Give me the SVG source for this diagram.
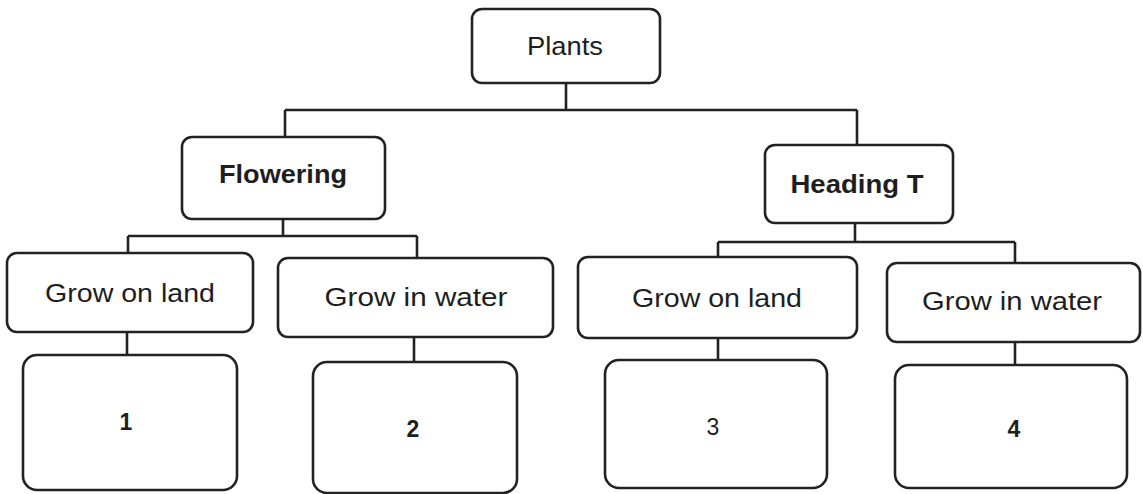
<svg xmlns="http://www.w3.org/2000/svg" width="1143" height="494" viewBox="0 0 1143 494">
<style>
.box{fill:#fff;stroke:#222;stroke-width:2.6}
.ln{fill:none;stroke:#222;stroke-width:2.6}
.t{font-family:"Liberation Sans",Arial,sans-serif;font-size:26px;fill:#1e1e1e;text-anchor:middle}
.b{font-weight:bold}
</style>
<rect width="1143" height="494" fill="#fff"/>
<g id="connectors">
<path class="ln" d="M566,83V110M285,110H857M285,110V137M857,110V145"/>
<path class="ln" d="M283,219V236M128,236H417M128,236V253M417,236V258"/>
<path class="ln" d="M855,223V242M718,242H1015M718,242V257M1015,242V263"/>
<path class="ln" d="M127,332V355M414,337V362M718,338V360M1015,342V365"/>
</g>
<g id="plants"><rect class="box" x="472" y="9" width="188" height="74" rx="10"/><text class="t" x="565" y="55" textLength="76" lengthAdjust="spacingAndGlyphs">Plants</text></g>
<g id="flowering"><rect class="box" x="182" y="137" width="203" height="82" rx="10"/><text class="t b" x="283" y="183" textLength="128" lengthAdjust="spacingAndGlyphs">Flowering</text></g>
<g id="headingT"><rect class="box" x="765" y="145" width="188" height="78" rx="10"/><text class="t b" x="857" y="193" textLength="133" lengthAdjust="spacingAndGlyphs">Heading T</text></g>
<g id="land1"><rect class="box" x="7" y="253" width="246" height="79" rx="10"/><text class="t" x="130" y="302" textLength="170" lengthAdjust="spacingAndGlyphs">Grow on land</text></g>
<g id="water1"><rect class="box" x="278" y="258" width="275" height="79" rx="10"/><text class="t" x="416" y="306" textLength="183" lengthAdjust="spacingAndGlyphs">Grow in water</text></g>
<g id="land2"><rect class="box" x="578" y="257" width="279" height="81" rx="10"/><text class="t" x="717" y="307" textLength="170" lengthAdjust="spacingAndGlyphs">Grow on land</text></g>
<g id="water2"><rect class="box" x="887" y="263" width="253" height="79" rx="10"/><text class="t" x="1012" y="310" textLength="180" lengthAdjust="spacingAndGlyphs">Grow in water</text></g>
<g id="n1"><rect class="box" x="23" y="355" width="214" height="135" rx="14"/><text class="t b" x="126" y="430" style="font-size:23px">1</text></g>
<g id="n2"><rect class="box" x="313" y="362" width="204" height="131" rx="14"/><text class="t b" x="413" y="437" style="font-size:23px">2</text></g>
<g id="n3"><rect class="box" x="605" y="360" width="222" height="128" rx="14"/><text class="t" x="713" y="435" style="font-size:23px">3</text></g>
<g id="n4"><rect class="box" x="895" y="365" width="232" height="123" rx="14"/><text class="t b" x="1014" y="437" style="font-size:23px">4</text></g>
</svg>
